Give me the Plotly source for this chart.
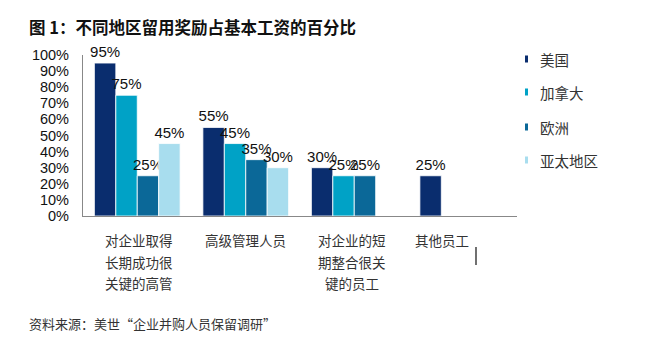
import plotly.graph_objects as go

categories = ["对企业取得<br>长期成功很<br>关键的高管", "高级管理人员", "对企业的短<br>期整合很关<br>键的员工", "其他员工"]
series_names = ["美国", "加拿大", "欧洲", "亚太地区"]
us = [0.95, 0.55, 0.30, 0.25]
canada = [0.75, 0.45, 0.25, None]
europe = [0.25, 0.35, 0.25, None]
apac = [0.45, 0.30, None, None]
series_values = [us, canada, europe, apac]
y_ticks = [0, 0.1, 0.2, 0.3, 0.4, 0.5, 0.6, 0.7, 0.8, 0.9, 1.0]
title_text = "图 1：不同地区留用奖励占基本工资的百分比"
source_text = "资料来源：美世“企业并购人员保留调研”"

colors = ["#0A2D6E", "#00A2C6", "#0B6898", "#A8DDEE"]
label_shift = [2, 0, -2, -21]

W, H = 648, 345
L, R, T, B = 83, 131, 55, 129
plot_h = H - T - B
plot_w = W - L - R

fig = go.Figure()
xs = list(range(len(categories)))
for name, vals, c in zip(series_names, series_values, colors):
    fig.add_trace(go.Bar(
        x=xs, y=vals, name=name,
        marker=dict(color=c, line=dict(color="white", width=0.8)),
        text=[f"{round(v*100)}%" if v is not None else "" for v in vals],
        textposition="outside", cliponaxis=False, constraintext="none",
        textfont=dict(family="Liberation Sans, Arial", size=15, color="#111111"),
        showlegend=False,
    ))

annotations = []
for i, cat in enumerate(categories):
    for j, line in enumerate(cat.split("<br>")):
        y_px = 240 + j * 21.5
        annotations.append(dict(
            x=i, xref="x", y=(H - B - y_px) / plot_h, yref="paper",
            text=line, showarrow=False, xanchor="center", yanchor="middle",
            xshift=label_shift[i],
            font=dict(family="Noto Sans CJK SC", size=13.5, color="#333333"),
        ))

leg_y_px = [59, 92, 127, 160]
shapes = []
for name, c, ypx in zip(series_names, colors, leg_y_px):
    yc = (H - B - ypx) / plot_h
    x0 = (525 - L) / plot_w
    x1 = (528 - L) / plot_w
    shapes.append(dict(type="rect", xref="paper", yref="paper",
                       x0=x0, x1=x1, y0=yc - 3.5 / plot_h, y1=yc + 3.5 / plot_h,
                       fillcolor=c, line=dict(width=0)))
    annotations.append(dict(
        x=(538 - L) / plot_w, xref="paper", y=yc, yref="paper",
        text=name, showarrow=False, xanchor="left", yanchor="middle",
        font=dict(family="Noto Sans CJK SC", size=14.5, color="#333333"),
    ))

annotations.append(dict(
    x=(27 - L) / plot_w, xref="paper", y=(H - B - 27) / plot_h, yref="paper",
    text="<b>" + title_text + "</b>", showarrow=False, xanchor="left", yanchor="middle",
    font=dict(family="Noto Sans CJK SC", size=16.5, color="#111111"),
))
annotations.append(dict(
    x=(27 - L) / plot_w, xref="paper", y=(H - B - 323) / plot_h, yref="paper",
    text=source_text, showarrow=False, xanchor="left", yanchor="middle",
    font=dict(family="Noto Sans CJK SC", size=13, color="#333333"),
))

shapes.append(dict(type="line", xref="paper", yref="paper",
                   x0=(476 - L) / plot_w, x1=(476 - L) / plot_w,
                   y0=(H - B - 247) / plot_h, y1=(H - B - 265) / plot_h,
                   line=dict(color="#111111", width=1.2)))

fig.update_layout(
    width=W, height=H,
    margin=dict(l=L, r=R, t=T, b=B, autoexpand=False),
    paper_bgcolor="white", plot_bgcolor="white",
    barmode="group", bargap=0.21, bargroupgap=0,
    showlegend=False,
    annotations=annotations, shapes=shapes,
    xaxis=dict(range=[-0.5, 3.5], showticklabels=False, showgrid=False, zeroline=False,
               showline=True, linecolor="#888888", linewidth=1.2, ticks=""),
    yaxis=dict(range=[0, 1], tickvals=y_ticks, tickformat=".0%", showgrid=False,
               zeroline=False, showline=True, linecolor="#888888", linewidth=1.2,
               ticks="", ticklabelstandoff=10,
               tickfont=dict(family="Liberation Sans, Arial", size=14.5, color="#111111")),
)

fig.write_html("out.html")
